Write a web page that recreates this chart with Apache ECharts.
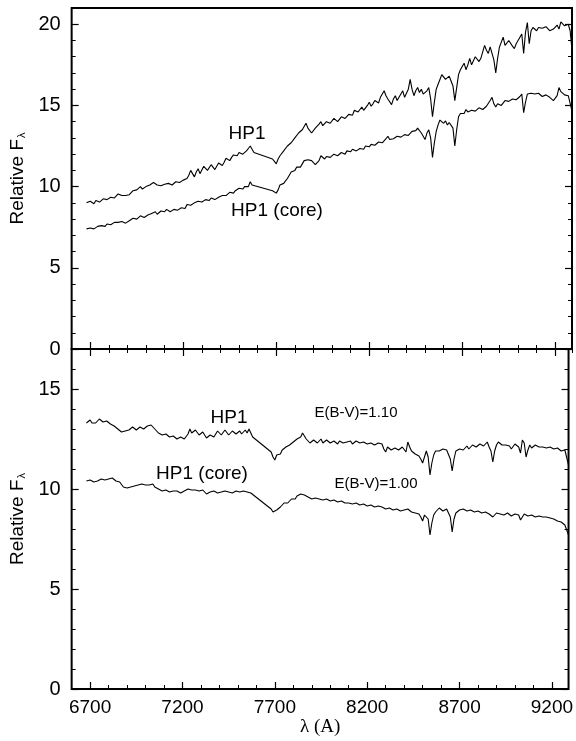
<!DOCTYPE html>
<html>
<head>
<meta charset="utf-8">
<script src="https://cdn.jsdelivr.net/npm/echarts@6/dist/echarts.min.js"></script>
<style>
html, body { margin: 0; padding: 0; background: #fff; }
#main { width: 576px; height: 741px; }
</style>
</head>
<body>
<div id="main"></div>
<script>
// wavelength grid (A); nothing between 7580 and 7680
const wave = [
	6680, 6690, 6700, 6710, 6720, 6730, 6740, 6750, 6760, 6770,
	6780, 6790, 6800, 6810, 6820, 6830, 6840, 6850, 6860, 6870,
	6880, 6890, 6900, 6910, 6920, 6930, 6940, 6950, 6960, 6970,
	6980, 6990, 7000, 7010, 7020, 7030, 7040, 7050, 7060, 7070,
	7080, 7090, 7100, 7110, 7120, 7130, 7140, 7150, 7160, 7170,
	7180, 7190, 7200, 7210, 7220, 7230, 7240, 7250, 7260, 7270,
	7280, 7290, 7300, 7310, 7320, 7330, 7340, 7350, 7360, 7370,
	7380, 7390, 7400, 7410, 7420, 7430, 7440, 7450, 7460, 7470,
	7480, 7490, 7500, 7510, 7520, 7530, 7540, 7550, 7560, 7570,
	7580,
	7680, 7690, 7700, 7710, 7720, 7730, 7740, 7750, 7760, 7770,
	7780, 7790, 7800, 7810, 7820, 7830, 7840, 7850, 7860, 7870,
	7880, 7890, 7900, 7910, 7920, 7930, 7940, 7950, 7960, 7970,
	7980, 7990, 8000, 8010, 8020, 8030, 8040, 8050, 8060, 8070,
	8080, 8090, 8100, 8110, 8120, 8130, 8140, 8150, 8160, 8170,
	8180, 8190, 8200, 8210, 8220, 8230, 8240, 8250, 8260, 8270,
	8280, 8290, 8300, 8310, 8320, 8330, 8340, 8350, 8360, 8370,
	8380, 8390, 8400, 8410, 8420, 8430, 8440, 8450, 8460, 8470,
	8480, 8490, 8500, 8510, 8520, 8530, 8540, 8550, 8560, 8570,
	8580, 8590, 8600, 8610, 8620, 8630, 8640, 8650, 8660, 8670,
	8680, 8690, 8700, 8710, 8720, 8730, 8740, 8750, 8760, 8770,
	8780, 8790, 8800, 8810, 8820, 8830, 8840, 8850, 8860, 8870,
	8880, 8890, 8900, 8910, 8920, 8930, 8940, 8950, 8960, 8970,
	8980, 8990, 9000, 9010, 9020, 9030, 9040, 9050, 9060, 9070,
	9080, 9090, 9100, 9110, 9120, 9130, 9140, 9150, 9160, 9170,
	9180, 9190, 9200, 9210, 9220, 9230, 9240, 9250, 9260, 9270,
	9280, 9290
];

// upper panel: observed flux
const hp1Obs = [
	9.0, 8.9, 9.1, 9.0, 8.95, 9.15, 9.2, 9.05, 9.1, 9.25,
	9.3, 9.2, 9.25, 9.35, 9.4, 9.3, 9.35, 9.55, 9.5, 9.45,
	9.4, 9.45, 9.35, 9.5, 9.6, 9.75, 9.7, 9.8, 9.9, 10.0,
	9.85, 9.95, 10.0, 9.95, 10.1, 10.2, 10.25, 10.15, 10.1, 10.0,
	10.05, 10.1, 10.15, 10.05, 10.2, 10.3, 10.1, 10.2, 10.3, 10.2,
	10.25, 10.35, 10.4, 10.3, 10.5, 10.7, 11.0, 10.8, 10.6, 10.9,
	11.1, 10.8, 10.9, 11.25, 11.2, 11.0, 11.0, 11.35, 11.3, 11.05,
	11.1, 11.45, 11.4, 11.3, 11.5, 11.75, 11.7, 11.6, 11.8, 11.95,
	12.0, 11.9, 12.1, 12.15, 12.0, 12.1, 12.2, 12.35, 12.5, 12.3,
	12.1,
	11.7, 11.55, 11.4, 11.7, 11.9, 12.0, 12.2, 12.15, 12.5, 12.4,
	12.7, 12.85, 13.0, 12.9, 13.3, 13.2, 13.5, 13.6, 13.9, 13.6,
	13.5, 13.3, 13.4, 13.6, 13.7, 13.85, 14.0, 13.75, 13.8, 14.0,
	14.1, 13.9, 14.0, 14.2, 14.2, 14.0, 14.1, 14.3, 14.4, 14.2,
	14.3, 14.45, 14.5, 14.4, 14.7, 14.8, 14.6, 14.75, 14.9, 14.7,
	14.8, 15.0, 15.2, 14.95, 15.1, 15.3, 15.3, 15.15, 15.5, 15.6,
	15.9, 15.6, 15.4, 15.3, 15.05, 15.4, 15.6, 15.3, 15.4, 15.7,
	15.9, 15.5, 15.5, 16.0, 16.6, 16.0, 15.6, 15.9, 16.1, 15.8,
	16.0, 15.7, 15.6, 15.9, 16.1, 15.4, 14.3, 15.2, 16.0, 16.3,
	16.6, 16.9, 16.9, 16.6, 16.5, 16.8, 16.7, 16.2, 15.3, 16.1,
	16.9, 17.2, 17.4, 17.6, 17.2, 17.5, 17.9, 17.5, 17.6, 18.0,
	18.1, 17.7, 17.9, 18.3, 18.7, 18.4, 18.2, 18.6, 18.55, 17.8,
	17.0, 17.9, 18.6, 18.9, 19.2, 18.7, 18.8, 19.0, 18.9, 18.65,
	18.5, 18.8, 19.0, 19.2, 19.4, 18.2, 19.5, 20.1, 18.8, 19.6,
	19.8, 19.9, 19.6, 19.8, 19.9, 19.75, 19.7, 19.85, 19.9, 19.6,
	19.6, 19.7, 19.8, 19.95, 19.7, 20.15, 20.1, 19.9, 19.8, 20.0,
	19.6, 18.4
];
const coreObs = [
	7.4, 7.35, 7.45, 7.5, 7.4, 7.5, 7.55, 7.65, 7.6, 7.55,
	7.55, 7.7, 7.75, 7.65, 7.7, 7.8, 7.85, 7.8, 7.9, 7.85,
	7.8, 7.75, 7.8, 7.9, 7.95, 8.05, 8.05, 8.0, 8.1, 8.2,
	8.2, 8.1, 8.15, 8.25, 8.3, 8.35, 8.4, 8.45, 8.3, 8.4,
	8.5, 8.4, 8.45, 8.6, 8.55, 8.45, 8.5, 8.6, 8.65, 8.55,
	8.6, 8.7, 8.75, 8.65, 8.9, 8.85, 8.85, 8.95, 9.0, 8.9,
	9.1, 9.0, 9.05, 9.15, 9.2, 9.1, 9.15, 9.3, 9.3, 9.2,
	9.25, 9.35, 9.4, 9.45, 9.5, 9.45, 9.55, 9.65, 9.7, 9.6,
	9.75, 9.85, 9.9, 9.8, 9.85, 10.0, 10.1, 10.0, 10.3, 10.1,
	10.0,
	9.75, 9.7, 9.6, 9.8, 10.1, 10.0, 10.2, 10.35, 10.5, 10.6,
	10.9, 10.8, 11.0, 11.2, 11.3, 11.2, 11.4, 11.6, 11.55, 11.65,
	11.7, 11.6, 11.5, 11.35, 11.25, 11.6, 11.9, 11.8, 11.7, 11.85,
	11.9, 11.8, 11.85, 12.0, 12.0, 11.9, 11.95, 12.1, 12.1, 12.0,
	12.2, 12.1, 12.15, 12.3, 12.3, 12.2, 12.25, 12.35, 12.4, 12.3,
	12.5, 12.4, 12.45, 12.6, 12.7, 12.55, 12.6, 12.75, 12.85, 12.7,
	12.75, 12.95, 13.1, 12.9, 12.8, 12.95, 13.0, 13.1, 13.2, 13.05,
	13.0, 13.2, 13.3, 13.15, 13.2, 13.4, 13.5, 13.45, 13.6, 13.5,
	13.3, 13.1, 12.9, 13.3, 13.5, 13.0, 11.8, 12.7, 13.4, 13.8,
	14.1, 14.0, 13.9, 14.05, 13.8, 13.95, 14.0, 13.6, 12.5, 13.5,
	14.3, 14.5, 14.6, 14.5, 14.75, 14.6, 14.5, 14.7, 14.8, 14.65,
	14.7, 14.85, 14.9, 14.75, 14.8, 14.95, 15.05, 15.3, 15.5, 15.1,
	14.9, 15.1, 15.2, 15.0, 15.05, 15.3, 15.4, 15.25, 15.2, 15.4,
	15.5, 15.35, 15.4, 15.55, 15.7, 14.55, 15.2, 15.7, 15.6, 15.75,
	15.8, 15.7, 15.6, 15.75, 15.7, 15.55, 15.5, 15.65, 15.6, 15.5,
	15.4, 15.3, 15.2, 15.6, 16.1, 15.85, 15.8, 15.65, 15.7, 15.6,
	15.5, 14.65
];

// lower panel: dereddened flux
const hp1Dered = [
	13.3, 13.4, 13.45, 13.3, 13.2, 13.3, 13.35, 13.5, 13.45, 13.35,
	13.3, 13.4, 13.35, 13.25, 13.2, 13.15, 13.1, 13.0, 12.95, 12.85,
	12.8, 12.9, 12.85, 12.95, 13.0, 13.1, 13.1, 12.95, 13.0, 13.1,
	13.15, 13.0, 13.05, 13.15, 13.1, 13.2, 13.2, 13.0, 12.9, 12.8,
	12.75, 12.7, 12.65, 12.75, 12.7, 12.6, 12.55, 12.65, 12.6, 12.5,
	12.5, 12.6, 12.55, 12.5, 12.6, 12.75, 13.0, 12.8, 12.7, 12.95,
	12.95, 12.7, 12.6, 12.85, 12.75, 12.55, 12.5, 12.7, 12.8, 12.6,
	12.65, 12.9, 12.9, 12.7, 12.75, 12.95, 12.85, 12.7, 12.7, 12.9,
	12.85, 12.75, 12.8, 12.9, 12.75, 12.85, 12.95, 12.8, 13.0, 12.8,
	12.6,
	11.85, 11.6, 11.45, 11.7, 11.8, 11.75, 11.95, 12.0, 12.1, 12.05,
	12.2, 12.3, 12.35, 12.25, 12.5, 12.45, 12.6, 12.8, 12.75, 12.5,
	12.4, 12.3, 12.3, 12.45, 12.35, 12.3, 12.4, 12.5, 12.3, 12.4,
	12.45, 12.35, 12.3, 12.4, 12.4, 12.3, 12.25, 12.4, 12.35, 12.3,
	12.4, 12.35, 12.3, 12.4, 12.25, 12.3, 12.4, 12.35, 12.3, 12.4,
	12.35, 12.25, 12.25, 12.35, 12.3, 12.2, 12.2, 12.3, 12.3, 12.35,
	12.25, 12.0, 11.85, 12.1, 12.1, 11.95, 11.9, 12.05, 12.15, 11.95,
	11.95, 12.1, 12.0, 11.85, 12.35, 12.1, 11.9, 11.95, 11.75, 11.8,
	11.65, 11.5, 11.3, 11.6, 11.9, 11.6, 10.7, 11.3, 11.7, 11.9,
	12.0, 11.9, 11.85, 12.0, 12.05, 11.95, 11.9, 11.5, 10.9, 11.5,
	11.9, 11.95, 12.0, 12.05, 11.95, 12.05, 12.15, 12.0, 12.05, 12.2,
	12.2, 12.1, 12.1, 12.25, 12.3, 12.15, 12.25, 12.35, 12.1, 11.9,
	11.35, 11.9, 12.2, 12.35, 12.4, 12.2, 12.1, 12.2, 12.3, 12.15,
	12.0, 12.1, 12.25, 12.15, 12.1, 11.8, 12.45, 12.3, 11.6, 11.95,
	12.2, 12.05, 12.1, 12.2, 12.25, 12.1, 12.15, 12.1, 12.1, 12.05,
	12.05, 12.1, 12.1, 12.0, 12.0, 12.05, 11.95, 11.9, 11.9, 11.95,
	11.85, 11.2
];
const coreDered = [
	10.4, 10.45, 10.45, 10.4, 10.35, 10.45, 10.4, 10.5, 10.5, 10.4,
	10.45, 10.55, 10.5, 10.6, 10.55, 10.45, 10.4, 10.3, 10.35, 10.25,
	10.1, 10.05, 10.05, 10.15, 10.1, 10.2, 10.15, 10.05, 10.2, 10.25,
	10.25, 10.15, 10.2, 10.1, 10.2, 10.3, 10.25, 10.1, 10.05, 10.0,
	9.95, 9.9, 10.0, 9.95, 9.9, 9.85, 9.95, 9.9, 9.85, 9.9,
	9.9, 9.8, 9.85, 9.9, 9.95, 10.0, 10.05, 9.95, 9.9, 9.95,
	9.95, 9.9, 9.85, 9.95, 9.9, 9.75, 9.75, 9.85, 9.8, 9.9,
	9.85, 9.8, 9.75, 9.85, 9.85, 9.9, 9.8, 9.85, 9.9, 9.8,
	9.85, 9.9, 9.9, 9.85, 9.8, 9.9, 9.95, 9.85, 9.95, 9.8,
	9.7,
	9.0, 8.85, 8.75, 8.95, 9.05, 9.1, 9.2, 9.3, 9.35, 9.3,
	9.4, 9.5, 9.55, 9.5, 9.65, 9.6, 9.75, 9.7, 9.7, 9.65,
	9.6, 9.55, 9.5, 9.6, 9.55, 9.45, 9.5, 9.55, 9.45, 9.4,
	9.5, 9.45, 9.4, 9.45, 9.45, 9.35, 9.35, 9.4, 9.4, 9.3,
	9.3, 9.35, 9.3, 9.25, 9.25, 9.3, 9.3, 9.2, 9.2, 9.25,
	9.25, 9.2, 9.15, 9.2, 9.2, 9.1, 9.1, 9.2, 9.15, 9.1,
	9.1, 9.05, 9.0, 9.1, 9.05, 8.95, 8.95, 9.05, 9.0, 8.9,
	8.9, 9.0, 8.95, 8.85, 9.0, 8.9, 8.85, 8.9, 8.8, 8.85,
	8.75, 8.6, 8.4, 8.7, 8.8, 8.5, 7.7, 8.3, 8.7, 8.85,
	8.95, 9.05, 9.0, 8.9, 8.9, 9.0, 8.95, 8.6, 7.85, 8.5,
	8.8, 8.9, 8.95, 9.05, 9.0, 8.95, 8.9, 8.85, 8.95, 8.9,
	8.85, 8.9, 8.9, 8.85, 8.8, 8.85, 8.85, 8.8, 8.75, 8.8,
	8.6, 8.7, 8.8, 8.75, 8.75, 8.85, 8.7, 8.75, 8.8, 8.7,
	8.65, 8.7, 8.75, 8.7, 8.7, 8.45, 8.6, 8.75, 8.7, 8.65,
	8.65, 8.7, 8.7, 8.6, 8.6, 8.65, 8.65, 8.6, 8.55, 8.6,
	8.6, 8.55, 8.5, 8.5, 8.45, 8.4, 8.3, 8.35, 8.25, 8.2,
	8.1, 7.7
];

const xTicks = [6700, 7200, 7700, 8200, 8700, 9200];
const yTicksTop = [0, 5, 10, 15, 20];
const yTicksBottom = [0, 5, 10, 15];

const sans = 'Liberation Sans';
let myChart = echarts.init(document.getElementById('main'));

function xAxis(grid, position, major, labels) {
	return {
		type: 'value', gridIndex: grid, position: position,
		min: 6600, max: 9290,
		interval: major ? undefined : 100,
		axisLine: { show: false },
		splitLine: { show: false },
		axisTick: major
			? { inside: true, length: 7, customValues: xTicks, lineStyle: { color: '#000', width: 1.2 } }
			: { inside: true, length: 4, lineStyle: { color: '#000', width: 1 } },
		axisLabel: labels
			? {
				show: true, customValues: xTicks, margin: 9, color: '#000', fontSize: 19, fontFamily: sans,
				formatter: function (v) { return String(v); }
			}
			: { show: false }
	};
}

function yAxis(grid, position, max, major, labels) {
	let ticks = grid === 0 ? yTicksTop : yTicksBottom;
	let ax = {
		type: 'value', gridIndex: grid, position: position,
		min: 0, max: max,
		interval: major ? undefined : 1,
		axisLine: { show: false },
		splitLine: { show: false },
		axisTick: major
			? { inside: true, length: 7, customValues: ticks, lineStyle: { color: '#000', width: 1.2 } }
			: { inside: true, length: 4, lineStyle: { color: '#000', width: 1 } },
		axisLabel: labels
			? { show: true, customValues: ticks, margin: 11, color: '#000', fontSize: 20, fontFamily: sans }
			: { show: false }
	};
	if (labels) {
		ax.name = '{f|Relative F}{s|λ}';
		ax.nameLocation = 'middle';
		ax.nameGap = 33;
		ax.nameTextStyle = {
			color: '#000',
			rich: {
				f: { fontSize: 19, fontFamily: sans, color: '#000' },
				s: { fontSize: 11, fontFamily: sans, color: '#000', padding: [9, 0, 0, 1] }
			}
		};
	}
	return ax;
}

function pairs(ys) {
	return wave.map(function (w, i) { return [w, ys[i]]; });
}

function spectrum(name, ys, grid) {
	return {
		name: name, type: 'line',
		xAxisIndex: grid === 0 ? 0 : 4,
		yAxisIndex: grid === 0 ? 0 : 4,
		data: pairs(ys),
		showSymbol: false,
		lineStyle: { color: '#000', width: 1.1 },
		silent: true
	};
}

function label(text, x, y, size) {
	return {
		type: 'text', x: x, y: y, silent: true,
		style: {
			text: text, fill: '#000', align: 'center', verticalAlign: 'middle',
			font: size + 'px "Liberation Sans"'
		}
	};
}

let option = {
	animation: false,
	backgroundColor: '#fff',
	grid: [
		{ left: 70, right: 4, top: 8, height: 341, show: true, borderColor: '#000', borderWidth: 2, backgroundColor: 'transparent' },
		{ left: 70, right: 4, top: 349, height: 340, show: true, borderColor: '#000', borderWidth: 2, backgroundColor: 'transparent' }
	],
	xAxis: [
		xAxis(0, 'bottom', true, false),
		xAxis(0, 'bottom', false, false),
		xAxis(0, 'top', true, false),
		xAxis(0, 'top', false, false),
		Object.assign(xAxis(1, 'bottom', true, true), {
			name: 'λ (A)', nameLocation: 'middle', nameGap: 29,
			nameTextStyle: { color: '#000', fontSize: 19, fontFamily: 'Liberation Serif' }
		}),
		xAxis(1, 'bottom', false, false)
	],
	yAxis: [
		yAxis(0, 'left', 21, true, true),
		yAxis(0, 'left', 21, false, false),
		yAxis(0, 'right', 21, true, false),
		yAxis(0, 'right', 21, false, false),
		yAxis(1, 'left', 17, true, true),
		yAxis(1, 'left', 17, false, false),
		yAxis(1, 'right', 17, true, false),
		yAxis(1, 'right', 17, false, false)
	],
	series: [
		spectrum('HP1', hp1Obs, 0),
		spectrum('HP1 (core)', coreObs, 0),
		spectrum('HP1 dereddened', hp1Dered, 1),
		spectrum('HP1 (core) dereddened', coreDered, 1)
	],
	graphic: [
		label('HP1', 247, 134, 19),
		label('HP1 (core)', 277, 211, 19),
		label('HP1', 229, 418, 19),
		label('HP1 (core)', 202, 474, 19),
		label('E(B-V)=1.10', 356, 413, 15),
		label('E(B-V)=1.00', 376, 484, 15)
	]
};

myChart.setOption(option);
</script>
</body>
</html>
